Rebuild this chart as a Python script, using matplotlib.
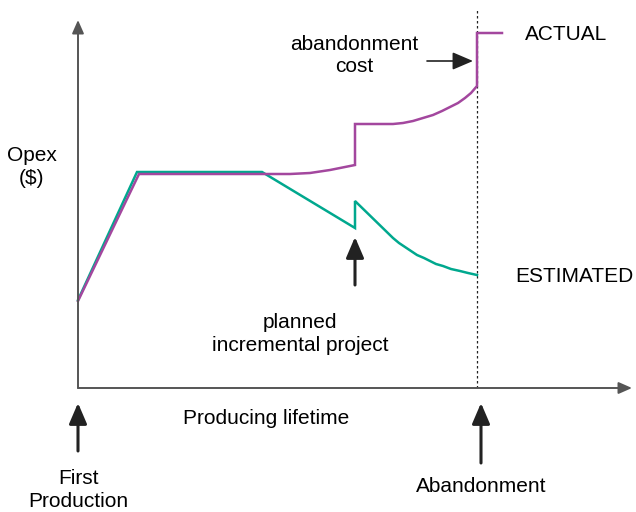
import matplotlib
matplotlib.use("Agg")
import matplotlib.pyplot as plt

# time since first production vs opex (arbitrary units)
t_actual = [0, 61, 184, 212, 232, 252, 277, 277, 297, 315, 325, 335, 345, 355, 364, 372, 380, 387, 393, 399, 399, 424]
opex_actual = [87, 214, 214, 214, 215, 218, 223, 264, 264, 264, 265, 267, 270, 273, 277, 281, 285, 290, 295, 302, 355, 355]

t_est = [0, 59, 184, 277, 277, 315, 321, 327, 333, 339, 346, 352, 358, 365, 373, 382, 390, 399]
opex_est = [88, 216, 216, 160, 187, 150, 145, 141, 137, 133, 130, 127, 124, 122, 119, 117, 115, 113]

t_abandon = 399
t_project = 277

PURPLE = "#a3479e"
TEAL = "#00a88e"
AXIS = "#555555"
INK = "#222222"

plt.rcParams["font.family"] = ["Liberation Sans", "DejaVu Sans"]
plt.rcParams["font.size"] = 15

fig = plt.figure(figsize=(6.36, 5.12), dpi=100)
ax = fig.add_axes([0, 0, 1, 1])
ax.set_xlim(-78, 558)
ax.set_ylim(-124, 388)
ax.axis("off")

# axes with arrowheads
axis_arrow = dict(arrowstyle="-|>,head_length=0.5,head_width=0.22", color=AXIS,
                  lw=1.4, mutation_scale=16, shrinkA=0, shrinkB=0)
ax.annotate("", xy=(0, 368), xytext=(0, 0), arrowprops=axis_arrow)
ax.annotate("", xy=(554, 0), xytext=(0, 0), arrowprops=axis_arrow)

# abandonment line
ax.plot([t_abandon, t_abandon], [0, 380], color=INK, lw=0.9, ls=(0, (2, 2)))

ax.plot(t_est, opex_est, color=TEAL, lw=1.8, solid_joinstyle="miter")
ax.plot(t_actual, opex_actual, color=PURPLE, lw=1.8, solid_joinstyle="miter")

call_arrow = dict(arrowstyle="-|>,head_length=0.7,head_width=0.3", color=INK,
                  lw=2.2, mutation_scale=18, shrinkA=0, shrinkB=0)
ax.annotate("", xy=(t_project, 151), xytext=(t_project, 103), arrowprops=call_arrow)
ax.annotate("", xy=(0, -15), xytext=(0, -63), arrowprops=call_arrow)
ax.annotate("", xy=(t_abandon + 4, -15), xytext=(t_abandon + 4, -75), arrowprops=call_arrow)
ax.annotate("", xy=(395, 327), xytext=(349, 327),
            arrowprops=dict(arrowstyle="-|>,head_length=0.7,head_width=0.3", color=INK,
                            lw=1.2, mutation_scale=18, shrinkA=0, shrinkB=0))

ax.text(-46, 221, "Opex\n($)", ha="center", va="center", linespacing=1.25)
ax.text(276, 332, "abandonment\ncost", ha="center", va="center", linespacing=1.2)
ax.text(447, 353, "ACTUAL", ha="left", va="center")
ax.text(437, 112, "ESTIMATED", ha="left", va="center")
ax.text(222, 54, "planned\nincremental project", ha="center", va="center", linespacing=1.3)
ax.text(188, -30, "Producing lifetime", ha="center", va="center")
ax.text(0, -102, "First\nProduction", ha="center", va="center", linespacing=1.25)
ax.text(t_abandon + 4, -99, "Abandonment", ha="center", va="center")

fig.savefig("out.png", dpi=100)
